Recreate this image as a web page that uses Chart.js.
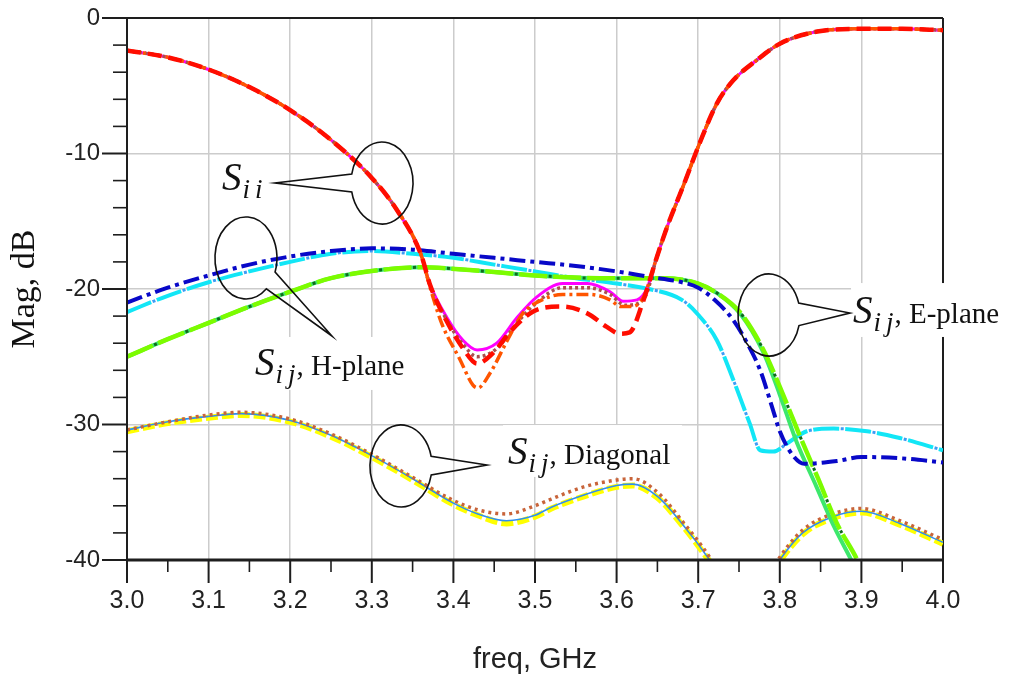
<!DOCTYPE html>
<html>
<head>
<meta charset="utf-8">
<title>S-parameters vs frequency</title>
<script src="https://cdn.jsdelivr.net/npm/chart.js@4.4.1/dist/chart.umd.min.js"></script>
<style>
  html, body { margin: 0; padding: 0; background: #ffffff; }
  #wrap { width: 1013px; height: 683px; position: relative; }
</style>
</head>
<body>
<div id="wrap"><canvas id="chart"></canvas></div>
<script>
// ---- axes ----
const xTickValues = [3.0, 3.1, 3.2, 3.3, 3.4, 3.5, 3.6, 3.7, 3.8, 3.9, 4.0];
const xTickLabels = ['3.0', '3.1', '3.2', '3.3', '3.4', '3.5', '3.6', '3.7', '3.8', '3.9', '4.0'];
const xMinorTicks = [3.05, 3.15, 3.25, 3.35, 3.45, 3.55, 3.65, 3.75, 3.85, 3.95];
const yTickValues = [0, -10, -20, -30, -40];
const yTickLabels = ['0', '-10', '-20', '-30', '-40'];
const yMinorTicks = [-2, -4, -6, -8, -12, -14, -16, -18, -22, -24, -26, -28, -32, -34, -36, -38];

// ---- reflection Sii: shared skirts and the four pass-band variants (GHz, dB) ----
const siiFallFreq = [3.00, 3.05, 3.10, 3.15, 3.20, 3.25, 3.30, 3.33, 3.36];
const siiFall     = [-2.4, -2.9, -3.8, -5.1, -6.8, -9.0, -11.8, -14.1, -17.4];
const siiRiseFreq = [3.648, 3.662, 3.681, 3.702, 3.723, 3.743, 3.772, 3.800, 3.846, 3.900, 3.950, 4.000];
const siiRise     = [-17.9, -15.4, -12.5, -9.2, -6.3, -4.6, -3.1, -1.9, -1.0, -0.8, -0.8, -0.9];

const siiRedFreq = [3.372, 3.392, 3.412, 3.429, 3.449, 3.469, 3.494, 3.510, 3.534, 3.564, 3.588, 3.604, 3.616, 3.632];
const siiRed     = [-19.8, -22.4, -24.4, -25.5, -24.7, -23.2, -21.8, -21.4, -21.3, -21.8, -22.8, -23.3, -23.2, -21.0];

const siiOrangeFreq = [3.372, 3.386, 3.408, 3.424, 3.430, 3.445, 3.466, 3.485, 3.502, 3.534, 3.567, 3.592, 3.605, 3.618, 3.633];
const siiOrange     = [-20.0, -22.6, -25.2, -27.1, -27.3, -26.2, -23.8, -21.8, -21.0, -20.4, -20.4, -20.8, -21.3, -21.3, -20.6];

const siiMagentaFreq = [3.371, 3.392, 3.412, 3.429, 3.453, 3.478, 3.502, 3.534, 3.564, 3.592, 3.608, 3.625, 3.637];
const siiMagenta     = [-19.6, -22.1, -23.8, -24.5, -24.0, -22.1, -20.6, -19.6, -19.6, -20.2, -20.9, -20.8, -20.0];

const siiBrownFreq = [3.371, 3.392, 3.412, 3.429, 3.453, 3.478, 3.502, 3.534, 3.564, 3.592, 3.610, 3.625, 3.637];
const siiBrown     = [-19.7, -22.3, -24.1, -25.0, -24.4, -22.5, -21.0, -19.9, -19.9, -20.4, -21.2, -21.1, -20.3];

// ---- transmission Sij, H-plane ----
const hBlueFreq = [3.00, 3.05, 3.10, 3.15, 3.20, 3.25, 3.30, 3.35, 3.40, 3.45, 3.50, 3.55, 3.60, 3.64, 3.68, 3.70, 3.72, 3.743, 3.76, 3.776, 3.79, 3.80, 3.815, 3.83, 3.87, 3.90, 3.95, 4.00];
const hBlue     = [-21.0, -19.9, -19.0, -18.2, -17.6, -17.2, -17.0, -17.1, -17.4, -17.7, -18.0, -18.3, -18.7, -19.1, -19.5, -19.9, -20.8, -22.3, -24.0, -26.0, -28.6, -30.5, -32.2, -32.9, -32.7, -32.4, -32.5, -32.8];

const hCyanFreq = [3.00, 3.05, 3.10, 3.15, 3.20, 3.25, 3.30, 3.35, 3.40, 3.45, 3.50, 3.55, 3.60, 3.64, 3.68, 3.70, 3.723, 3.743, 3.763, 3.776, 3.792, 3.809, 3.833, 3.866, 3.907, 3.947, 4.00];
const hCyan     = [-21.7, -20.5, -19.5, -18.7, -18.0, -17.4, -17.2, -17.4, -17.7, -18.2, -18.7, -19.2, -19.6, -20.0, -20.8, -21.9, -23.8, -26.7, -29.9, -31.9, -32.0, -31.4, -30.5, -30.3, -30.5, -31.0, -31.9];

// ---- transmission Sij, E-plane ----
const eGreenFreq = [3.00, 3.05, 3.10, 3.15, 3.20, 3.25, 3.31, 3.36, 3.42, 3.50, 3.58, 3.66, 3.70, 3.723, 3.751, 3.780, 3.804, 3.825, 3.847, 3.870, 3.895, 3.920];
const eGreen     = [-25.0, -23.7, -22.5, -21.3, -20.2, -19.2, -18.6, -18.4, -18.6, -19.0, -19.2, -19.2, -19.6, -20.3, -21.7, -24.5, -27.8, -30.9, -34.0, -37.3, -40.0, -43.4];

const eLimeFreq = [3.00, 3.05, 3.10, 3.15, 3.20, 3.25, 3.31, 3.36, 3.42, 3.50, 3.58, 3.66, 3.70, 3.723, 3.751, 3.780, 3.800, 3.820, 3.845, 3.867, 3.890, 3.910];
const eLime     = [-25.0, -23.7, -22.5, -21.3, -20.2, -19.2, -18.6, -18.4, -18.6, -19.0, -19.2, -19.2, -19.6, -20.3, -21.8, -24.7, -27.8, -31.2, -34.6, -37.6, -40.3, -43.0];

// ---- transmission Sij, diagonal ----
const dFreq   = [3.00, 3.05, 3.10, 3.14, 3.20, 3.25, 3.30, 3.35, 3.40, 3.43, 3.465, 3.50, 3.52, 3.56, 3.60, 3.62, 3.65, 3.68, 3.714, 3.735, 3.757, 3.78, 3.80, 3.828, 3.865, 3.90, 3.947, 4.00];
const dBlue   = [-30.4, -29.8, -29.4, -29.2, -29.7, -30.8, -32.3, -34.0, -35.8, -36.6, -37.1, -36.7, -36.1, -35.2, -34.5, -34.4, -35.3, -37.3, -40.0, -42.0, -43.5, -42.0, -40.0, -38.0, -36.8, -36.4, -37.3, -38.7];
const dYellow = [-30.5, -29.9, -29.5, -29.3, -29.8, -30.9, -32.4, -34.1, -35.9, -36.7, -37.3, -36.8, -36.2, -35.3, -34.6, -34.5, -35.4, -37.4, -40.1, -42.0, -43.5, -42.1, -40.1, -38.1, -36.9, -36.5, -37.4, -38.8];
const dBrown  = [-30.4, -29.8, -29.3, -29.1, -29.6, -30.7, -32.2, -33.9, -35.6, -36.3, -36.6, -36.0, -35.5, -34.6, -34.1, -34.0, -35.0, -37.1, -39.8, -42.0, -43.5, -42.0, -39.8, -37.8, -36.6, -36.2, -37.1, -38.5];

// ---- callout balloons: ellipse centre and pointer tip in (GHz, dB) ----
const callouts = [
  { sub: ['i', 'i'], suffix: '',           at: [3.1164, -12.69], centre: [3.3125, -12.18], tip: [3.1814, -12.18], spread: 0.22 },
  { sub: ['i', 'j'], suffix: ', H-plane',  at: [3.1569, -26.35], centre: [3.1458, -17.71], tip: [3.2512, -23.47], spread: 0.25, box: [3.1544, -23.54, 3.3983, -27.45] },
  { sub: ['i', 'j'], suffix: ', E-plane',  at: [3.8897, -22.51], centre: [3.7868, -21.92], tip: [3.8860, -21.77], spread: 0.28, box: [3.8873, -19.56, 4.0858, -23.54] },
  { sub: ['i', 'j'], suffix: ', Diagonal', at: [3.4669, -32.92], centre: [3.3358, -33.06], tip: [3.4412, -32.99], spread: 0.23, box: [3.4608, -30.04, 3.6801, -33.87] }
];

const pairs = (fx, fy) => fx.map((x, i) => ({ x, y: fy[i] }));
const join = (...parts) => parts.flat();

function series(label, data, color, width, dash, dashOffset) {
  return {
    label, data,
    borderColor: color, backgroundColor: color,
    borderWidth: width, borderDash: dash || [], borderDashOffset: dashOffset || 0,
    borderCapStyle: 'butt', borderJoinStyle: 'round',
    pointRadius: 0, pointHoverRadius: 0, fill: false,
    cubicInterpolationMode: 'monotone', clip: 0
  };
}

const siiFallPts = pairs(siiFallFreq, siiFall);
const siiRisePts = pairs(siiRiseFreq, siiRise);

// listed top-most first; the small "ref" marks sit in the gaps of the dashed trace above them
const datasets = [
  series('Sii, diagonal feed', join(siiFallPts, pairs(siiRedFreq, siiRed), siiRisePts), '#ff0d00', 4.5, [14, 7]),
  series('Sii, E-plane feed', join(siiFallPts, pairs(siiOrangeFreq, siiOrange), siiRisePts), '#ff5500', 3.5, [12, 4, 3, 4]),
  series('Sii, H-plane feed', join(siiFallPts, pairs(siiBrownFreq, siiBrown), siiRisePts), '#a8504e', 3.5, [3, 3]),
  series('Sii, single port', join(siiFallPts, pairs(siiMagentaFreq, siiMagenta), siiRisePts), '#ff00ff', 3),
  series('Sij H-plane, pair A', pairs(hBlueFreq, hBlue), '#0808c8', 4, [16, 5, 4, 5]),
  series('Sij E-plane, pair A', pairs(eGreenFreq, eGreen), '#7cfc00', 4.5, [28, 6]),
  series('Sij E-plane, pair A (ref)', pairs(eGreenFreq, eGreen), '#0f6a1c', 3, [3, 31], 4.5),
  series('Sij E-plane, pair B', pairs(eLimeFreq, eLime), '#3de86c', 4),
  series('Sij H-plane, pair B', pairs(hCyanFreq, hCyan), '#12e6f6', 4, [26, 6]),
  series('Sij H-plane, pair B (ref)', pairs(hCyanFreq, hCyan), '#3d9cf5', 3, [3, 29], 4.5),
  series('Sij diagonal, pair A', pairs(dFreq, dBrown), '#c8643a', 3.5, [3, 4]),
  series('Sij diagonal, pair B', pairs(dFreq, dBlue), '#2f8ff0', 1.6),
  series('Sij diagonal, pair C', pairs(dFreq, dYellow), '#ffff00', 6, [12, 4])
];

const INK = '#1e1e1e';

function hline(ctx, x1, x2, y) { ctx.beginPath(); ctx.moveTo(x1, y); ctx.lineTo(x2, y); ctx.stroke(); }
function vline(ctx, x, y1, y2) { ctx.beginPath(); ctx.moveTo(x, y1); ctx.lineTo(x, y2); ctx.stroke(); }

function drawLabel(ctx, x, y, sub, suffix) {
  ctx.fillStyle = '#111111';
  ctx.textAlign = 'left';
  ctx.textBaseline = 'alphabetic';
  ctx.font = 'italic 39px "Liberation Serif", "Times New Roman", serif';
  ctx.fillText('S', x, y);
  let cx = x + ctx.measureText('S').width + 1;
  ctx.font = 'italic 27px "Liberation Serif", "Times New Roman", serif';
  sub.forEach((ch, i) => {
    ctx.fillText(ch, cx, y + 8);
    cx += ctx.measureText(ch).width + (i < sub.length - 1 ? 5 : 1);
  });
  if (suffix) {
    ctx.font = '29px "Liberation Serif", "Times New Roman", serif';
    ctx.fillText(suffix, cx, y);
  }
}

const framePlugin = {
  id: 'frameAndCallouts',
  beforeDatasetsDraw(chart) {
    const { ctx, chartArea: a, scales: { x, y } } = chart;
    ctx.save();
    // top and right frame
    ctx.strokeStyle = INK;
    ctx.lineWidth = 2;
    hline(ctx, a.left, a.right, a.top);
    vline(ctx, a.right, a.top, a.bottom);
    // white label panels
    ctx.fillStyle = '#ffffff';
    callouts.forEach(c => {
      if (!c.box) return;
      const x1 = x.getPixelForValue(c.box[0]), y1 = y.getPixelForValue(c.box[1]);
      const x2 = x.getPixelForValue(c.box[2]), y2 = y.getPixelForValue(c.box[3]);
      ctx.fillRect(x1, y1, x2 - x1, y2 - y1);
    });
    ctx.restore();
  },
  afterDatasetsDraw(chart) {
    const { ctx, chartArea: a, scales: { x, y } } = chart;
    ctx.save();
    ctx.strokeStyle = INK;
    // axes
    ctx.lineWidth = 3;
    hline(ctx, a.left, a.right, a.bottom);
    ctx.lineWidth = 2;
    vline(ctx, a.left, a.top, a.bottom);
    // x ticks
    xTickValues.forEach(v => { const px = x.getPixelForValue(v); ctx.lineWidth = 2; vline(ctx, px, a.bottom, a.bottom + 23); });
    xMinorTicks.forEach(v => { const px = x.getPixelForValue(v); ctx.lineWidth = 1.6; vline(ctx, px, a.bottom, a.bottom + 12); });
    // y ticks
    yTickValues.forEach(v => { const py = y.getPixelForValue(v); ctx.lineWidth = 2; hline(ctx, a.left - 25, a.left, py); });
    yMinorTicks.forEach(v => { const py = y.getPixelForValue(v); ctx.lineWidth = 1.6; hline(ctx, a.left - 14, a.left, py); });

    // callout balloons
    const rx = 31, ry = 41;
    ctx.strokeStyle = '#111111';
    ctx.lineWidth = 1.6;
    callouts.forEach(c => {
      const cx = x.getPixelForValue(c.centre[0]), cy = y.getPixelForValue(c.centre[1]);
      const tx = x.getPixelForValue(c.tip[0]), ty = y.getPixelForValue(c.tip[1]);
      const phi = Math.atan2((ty - cy) / ry, (tx - cx) / rx);
      const a0 = phi + c.spread, a1 = phi - c.spread + Math.PI * 2;
      ctx.beginPath();
      ctx.ellipse(cx, cy, rx, ry, 0, a0, a1, false);
      ctx.lineTo(tx, ty);
      ctx.closePath();
      ctx.stroke();
    });
    // callout text
    callouts.forEach(c => {
      drawLabel(ctx, x.getPixelForValue(c.at[0]), y.getPixelForValue(c.at[1]), c.sub, c.suffix);
    });
    ctx.restore();
  }
};

new Chart(document.getElementById('chart'), {
  type: 'line',
  data: { datasets },
  options: {
    responsive: true,
    maintainAspectRatio: false,
    animation: false,
    events: [],
    layout: { padding: { left: 5, right: 70, top: 18, bottom: 6 } },
    plugins: { legend: { display: false }, tooltip: { enabled: false }, title: { display: false } },
    scales: {
      x: {
        type: 'linear', min: 3, max: 4,
        afterBuildTicks: s => { s.ticks = xTickValues.map(v => ({ value: v })); },
        afterFit: s => { s.height = 117; s.paddingLeft = 0; s.paddingRight = 0; },
        border: { display: false },
        grid: { color: '#cccccc', lineWidth: 1.5, drawTicks: false },
        ticks: {
          padding: 26, color: '#222222', maxRotation: 0, autoSkip: false,
          font: { family: '"Liberation Sans", Arial, sans-serif', size: 25 },
          callback: (v, i) => xTickLabels[i]
        },
        title: {
          display: true, text: 'freq, GHz', color: '#222222', padding: 0,
          font: { family: '"Liberation Sans", Arial, sans-serif', size: 29 }
        }
      },
      y: {
        type: 'linear', min: -40, max: 0,
        afterBuildTicks: s => { s.ticks = yTickValues.map(v => ({ value: v })); },
        afterFit: s => { s.width = 122; s.paddingTop = 0; s.paddingBottom = 0; },
        border: { display: false },
        grid: { color: '#cccccc', lineWidth: 1.5, drawTicks: false },
        ticks: {
          padding: 27, color: '#222222',
          font: { family: '"Liberation Sans", Arial, sans-serif', size: 24 },
          callback: (v, i) => yTickLabels[i]
        },
        title: {
          display: true, text: 'Mag, dB', color: '#111111', padding: 0,
          font: { family: '"Liberation Serif", "Times New Roman", serif', size: 34 }
        }
      }
    }
  },
  plugins: [framePlugin]
});
</script>
</body>
</html>
